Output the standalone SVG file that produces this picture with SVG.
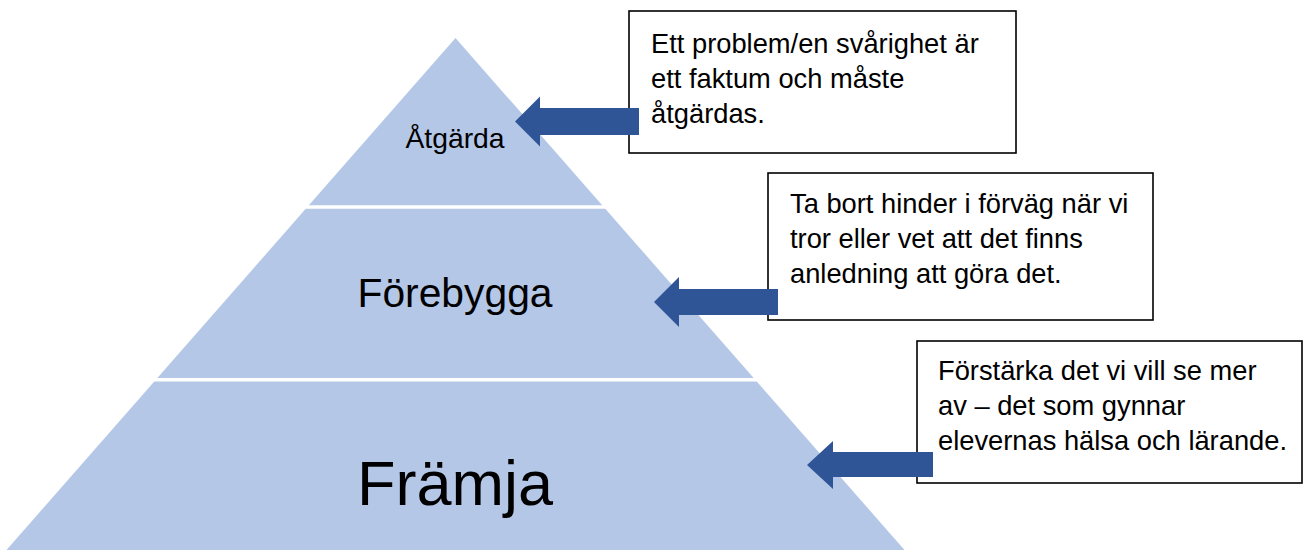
<svg xmlns="http://www.w3.org/2000/svg" width="1308" height="550" viewBox="0 0 1308 550">
<style>
.tier{fill:#B4C7E7}
.sep{stroke:#FFFFFF;stroke-width:3.5}
.lbl{font-family:"Liberation Sans",Arial,sans-serif;fill:#000;text-anchor:middle}
.box{fill:#FFFFFF;stroke:#000000;stroke-width:1.6}
.txt{font-family:"Liberation Sans",Arial,sans-serif;font-size:27.3px;fill:#000}
.arrow{fill:#2F5597}
</style>
<rect width="1308" height="550" fill="#FFFFFF"/>
<g id="pyramid">
<polygon class="tier" points="455.5,38 904.5,550 6.5,550"/>
<line class="sep" x1="280" y1="207" x2="640" y2="207"/>
<line class="sep" x1="130" y1="379.7" x2="790" y2="379.7"/>
</g>
<g id="tier-atgarda">
<text class="lbl" x="455" y="148" font-size="28.3">Åtgärda</text>
</g>
<g id="tier-forebygga">
<text class="lbl" x="455" y="307" font-size="40.8">Förebygga</text>
</g>
<g id="tier-framja">
<text class="lbl" x="455" y="505" font-size="63">Främja</text>
</g>
<g id="box-atgarda">
<rect class="box" x="629" y="11" width="387" height="142"/>
<text class="txt" x="651" y="53">Ett problem/en svårighet är</text>
<text class="txt" x="651" y="88">ett faktum och måste</text>
<text class="txt" x="651" y="123">åtgärdas.</text>
</g>
<g id="box-forebygga">
<rect class="box" x="768" y="173" width="385" height="147"/>
<text class="txt" x="790" y="213">Ta bort hinder i förväg när vi</text>
<text class="txt" x="790" y="248">tror eller vet att det finns</text>
<text class="txt" x="790" y="283">anledning att göra det.</text>
</g>
<g id="box-framja">
<rect class="box" x="917" y="341" width="385" height="142"/>
<text class="txt" x="938" y="380">Förstärka det vi vill se mer</text>
<text class="txt" x="938" y="415">av – det som gynnar</text>
<text class="txt" x="938" y="450">elevernas hälsa och lärande.</text>
</g>
<g id="connectors">
<polygon class="arrow" points="515,121.5 540,96.5 540,108 639,108 639,135 540,135 540,146.5"/>
<polygon class="arrow" points="654,302 679,277 679,289 778,289 778,315 679,315 679,327"/>
<polygon class="arrow" points="807,465 833,441 833,452 933,452 933,477 833,477 833,489"/>
</g>
</svg>
